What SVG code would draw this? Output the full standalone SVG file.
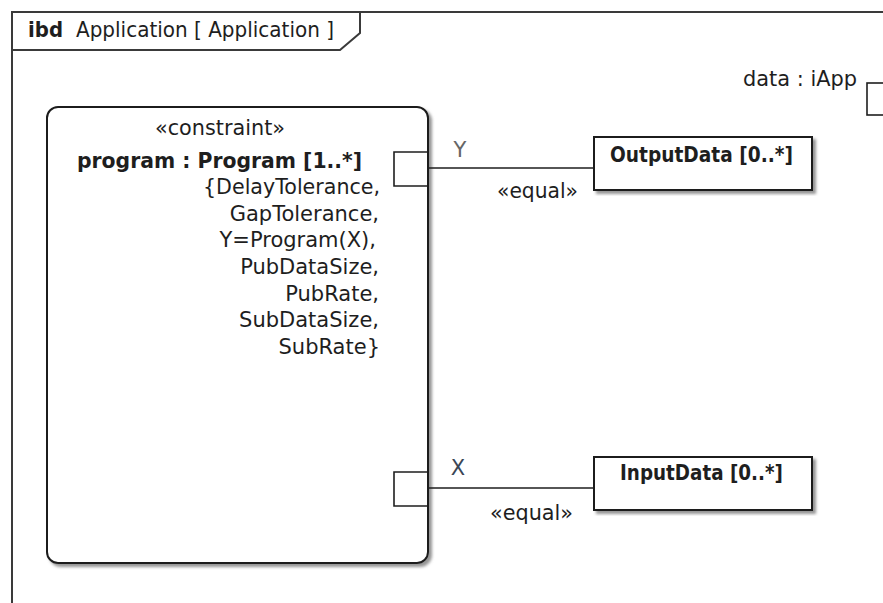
<svg xmlns="http://www.w3.org/2000/svg" width="883" height="603" viewBox="0 0 883 603">
<defs>
<filter id="sh" x="-5%" y="-5%" width="115%" height="115%">
<feDropShadow dx="3" dy="3" stdDeviation="1.5" flood-color="#7a7a7a" flood-opacity="0.8"/>
</filter>
</defs>
<style>
.t{font-family:"DejaVu Sans","Liberation Sans",sans-serif;font-size:21px;fill:#1e1e1e}
.b{font-weight:bold}
.frame{fill:none;stroke:#3a3a3a;stroke-width:2}
.box{fill:#fff;stroke:#1e1e1e;stroke-width:2}
.port{fill:#fff;stroke:#1e1e1e;stroke-width:1.6}
.wire{fill:none;stroke:#1e1e1e;stroke-width:1.6}
</style>
<rect width="883" height="603" fill="#fff"/>
<g id="frame">
<path class="frame" d="M12,603 V12 H883"/>
<path class="frame" d="M12,50 H340 L360,33 V12"/>
<text class="t b" x="28" y="37" font-size="20" textLength="35" lengthAdjust="spacingAndGlyphs">ibd</text>
<text class="t" x="76" y="37" font-size="20" textLength="258" lengthAdjust="spacingAndGlyphs">Application [ Application ]</text>
</g>
<g id="port-data">
<rect class="port" x="867" y="83" width="33" height="32"/>
<text class="t" x="743" y="86" textLength="114" lengthAdjust="spacingAndGlyphs">data : iApp</text>
</g>
<g id="program">
<rect class="box" x="47" y="107" width="381" height="456" rx="11" ry="11" filter="url(#sh)"/>
<text class="t" x="220" y="135" text-anchor="middle" textLength="130" lengthAdjust="spacingAndGlyphs">«constraint»</text>
<text class="t b" x="77" y="168" font-size="20.5" textLength="285" lengthAdjust="spacingAndGlyphs">program : Program [1..*]</text>
<g text-anchor="end" font-size="20.5">
<text class="t" x="380" y="194" font-size="20.5" textLength="177" lengthAdjust="spacingAndGlyphs">{DelayTolerance,</text>
<text class="t" x="379" y="221" font-size="20.5">GapTolerance,</text>
<text class="t" x="376" y="247" font-size="20.5">Y=Program(X),</text>
<text class="t" x="379" y="274" font-size="20.5">PubDataSize,</text>
<text class="t" x="379" y="301" font-size="20.5">PubRate,</text>
<text class="t" x="379" y="327" font-size="20.5">SubDataSize,</text>
<text class="t" x="380" y="354" font-size="20.5">SubRate}</text>
</g>
</g>
<g id="port-Y">
<path class="port" d="M427,152 H394 V186 H427"/>
<text class="t" x="460" y="157" text-anchor="middle" fill="#666" style="fill:#666">Y</text>
</g>
<g id="port-X">
<path class="port" d="M427,472 H394 V506 H427"/>
<text class="t" x="458" y="475" text-anchor="middle" style="fill:#3a4656">X</text>
</g>
<g id="connectors">
<line class="wire" x1="428" y1="168" x2="594" y2="168"/>
<line class="wire" x1="428" y1="488" x2="594" y2="488"/>
<text class="t" x="497" y="198" textLength="81" lengthAdjust="spacingAndGlyphs">«equal»</text>
<text class="t" x="490" y="520" textLength="83" lengthAdjust="spacingAndGlyphs">«equal»</text>
</g>
<g id="OutputData">
<rect class="box" x="594" y="137" width="218" height="53" filter="url(#sh)"/>
<text class="t b" x="610" y="162" font-size="18.75" textLength="183" lengthAdjust="spacingAndGlyphs">OutputData [0..*]</text>
</g>
<g id="InputData">
<rect class="box" x="594" y="457" width="218" height="53" filter="url(#sh)"/>
<text class="t b" x="620" y="480" font-size="18.5" textLength="163" lengthAdjust="spacingAndGlyphs">InputData [0..*]</text>
</g>
</svg>
